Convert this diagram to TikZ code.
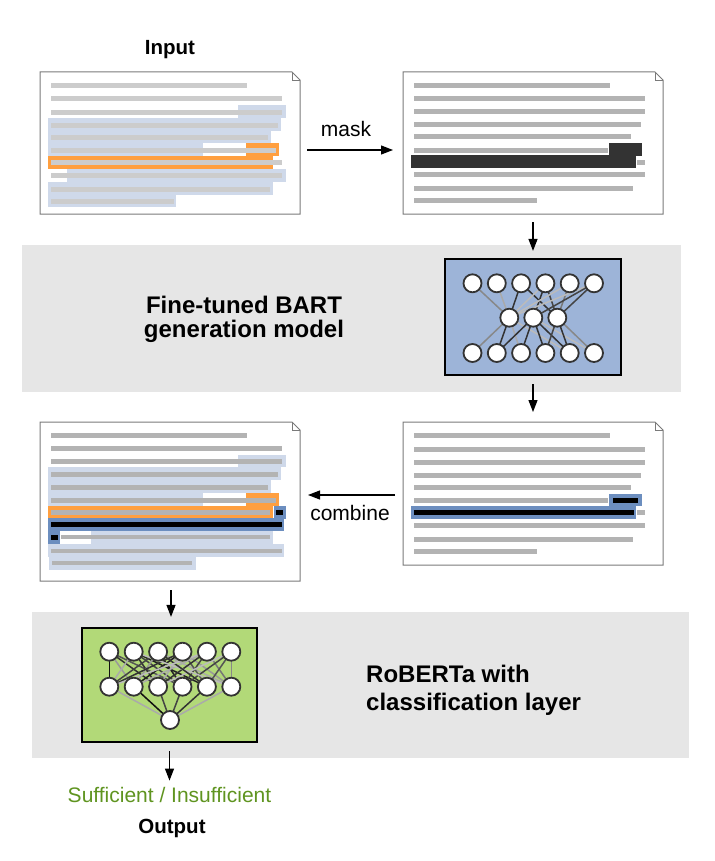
\documentclass[tikz,border=0pt]{standalone}
\usepackage{fontspec}
\setmainfont{Liberation Sans}
\usetikzlibrary{arrows.meta}
\definecolor{bandgray}{HTML}{E6E6E6}
\definecolor{lgray}{HTML}{CCCCCC}
\definecolor{mgray}{HTML}{B3B3B3}
\definecolor{hlblue}{HTML}{CFD9EA}
\definecolor{dkblue}{HTML}{6C8EBF}
\definecolor{hlorange}{HTML}{FF9F3F}
\definecolor{maskdark}{HTML}{333333}
\definecolor{bartfill}{HTML}{9DB4D8}
\definecolor{robfill}{HTML}{B2D978}
\definecolor{outgreen}{HTML}{5F9420}
\definecolor{docedge}{HTML}{7A7A7A}
\tikzset{
  docnode/.style={inner sep=0pt, outer sep=0pt, minimum width=260pt},
  docborder/.style={draw=docedge, line width=1pt, fill=white},
  foldline/.style={draw=docedge, line width=0.8pt},
  band/.style={fill=bandgray, draw=none},
  netbox/.style={draw=black, line width=2.2pt, inner sep=0pt},
  neuron/.style={circle, draw=maskdark, line width=1.8pt, fill=white, minimum size=18pt, inner sep=0pt},
  arr/.style={draw=black, line width=1.2pt, -{Triangle[length=12pt,width=9pt]}},
  ed/.style={line width=1.5pt},
  title/.style={font=\bfseries\fontsize{24}{24}\selectfont, inner sep=0pt},
  small/.style={font=\fontsize{21}{21}\selectfont, inner sep=0pt},
  io/.style={font=\bfseries\fontsize{20.5}{20.5}\selectfont, inner sep=0pt},
}
\newcommand\docoutline[1]{%
  \path[docborder] (#1.north west) -- ([xshift=-8pt]#1.north east) -- ([yshift=-8pt]#1.north east) -- (#1.south east) -- (#1.south west) -- cycle;
  \draw[foldline] ([xshift=-8pt]#1.north east) -- ([xshift=-8pt,yshift=-8pt]#1.north east) -- ([yshift=-8pt]#1.north east);}
\newcommand\tline[4]{\draw[line width=4.7pt,#1] (#3,#2) -- (#4,#2);}
\newcommand\hrect[5]{\fill[#1] (#2,#3) rectangle (#4,#5);}
\begin{document}
\begin{tikzpicture}[x=1pt,y=-1pt]
\useasboundingbox (0,0) rectangle (714,861);
% gray bands
\fill[band] (22,245) rectangle (681,392);
\fill[band] (32,612) rectangle (689,758);

% ---------- document nodes ----------
\node[docnode, minimum height=142pt] (d1) at (170,143) {};
\node[docnode, minimum height=142pt] (d2) at (533,143) {};
\node[docnode, minimum height=159pt] (d3) at (170,501.5) {};
\node[docnode, minimum height=143pt] (d4) at (533,493.5) {};
\docoutline{d1}\docoutline{d2}\docoutline{d3}\docoutline{d4}

% ---------- doc 1 ----------
\hrect{hlblue}{238}{105}{286}{117.7}
\hrect{hlblue}{48}{117.7}{281}{131}
\hrect{hlblue}{48}{131}{271}{143.3}
\hrect{hlblue}{48}{143.3}{203}{156}
\hrect{hlblue}{67}{169}{286}{182}
\hrect{hlblue}{48}{182}{273}{195}
\hrect{hlblue}{48}{195}{176}{207}
\hrect{hlorange}{246}{143}{279}{156}
\hrect{hlorange}{48}{156}{273}{169}
\tline{lgray}{85.3}{51}{247}
\tline{lgray}{98.3}{51}{282}
\tline{lgray}{112.3}{51}{282}
\tline{lgray}{125.3}{51}{278}
\tline{lgray}{137.3}{51}{268}
\tline{lgray}{150.3}{51}{276}
\tline{lgray}{162.3}{51}{282}
\tline{lgray}{175.3}{51}{282}
\tline{lgray}{189.3}{51}{270}
\tline{lgray}{201.3}{51}{174}

% ---------- doc 2 ----------
\tline{mgray}{85.3}{414}{610}
\tline{mgray}{98.3}{414}{645}
\tline{mgray}{111.3}{414}{645}
\tline{mgray}{124.3}{414}{641}
\tline{mgray}{136.3}{414}{631}
\tline{mgray}{150.3}{414}{608}
\tline{mgray}{162.3}{637}{645}
\tline{mgray}{174.3}{414}{645}
\tline{mgray}{188.3}{414}{633}
\tline{mgray}{200.3}{414}{537}
\hrect{maskdark}{609}{143}{642}{156}
\hrect{maskdark}{411}{155}{636}{168}

% ---------- doc 3 ----------
\hrect{hlblue}{238}{455}{286}{467.3}
\hrect{hlblue}{48}{467.3}{281}{480.3}
\hrect{hlblue}{48}{480.3}{271}{493}
\hrect{hlblue}{48}{493}{203}{506}
\hrect{hlblue}{91}{531}{273}{544}
\hrect{hlblue}{48}{544}{284}{557}
\hrect{hlblue}{49}{557}{196}{570}
\hrect{hlorange}{246}{493}{279}{506}
\hrect{hlorange}{48}{506}{273}{518}
\hrect{dkblue}{274}{506}{286}{519}
\hrect{dkblue}{48}{518}{284}{531}
\hrect{dkblue}{48}{531}{60}{544}
\tline{mgray}{435.3}{51}{247}
\tline{mgray}{448.3}{51}{282}
\tline{mgray}{461.3}{51}{282}
\tline{mgray}{474.3}{51}{278}
\tline{mgray}{487.3}{51}{268}
\tline{mgray}{500.3}{51}{276}
\tline{mgray}{512.3}{51}{270}
\tline{mgray}{537}{61}{270}
\tline{mgray}{551}{51}{282}
\tline{mgray}{563}{52}{192}
\hrect{black}{276}{510.3}{283}{515}
\hrect{black}{51}{522}{282}{527}
\hrect{black}{51}{535}{58}{540}

% ---------- doc 4 ----------
\tline{mgray}{435.3}{414}{610}
\tline{mgray}{449.3}{414}{645}
\tline{mgray}{462.3}{414}{645}
\tline{mgray}{475.3}{414}{641}
\tline{mgray}{487.3}{414}{631}
\tline{mgray}{500.3}{414}{608}
\tline{mgray}{512.3}{637}{645}
\tline{mgray}{525.3}{414}{645}
\tline{mgray}{539.3}{414}{633}
\tline{mgray}{551.3}{414}{537}
\hrect{dkblue}{609}{494}{642}{506.3}
\hrect{dkblue}{411}{506}{636}{519}
\hrect{black}{613}{498.3}{638}{502.7}
\hrect{black}{414}{510.3}{634}{515}

% ---------- BART network ----------
\node[netbox, fill=bartfill, minimum width=176pt, minimum height=116pt] (bart) at (533,317) {};
\foreach \i/\x in {1/472.5,2/496.8,3/521.1,4/545.4,5/569.7,6/594.0}{
  \coordinate (bt\i) at (\x,283.3);
  \coordinate (bb\i) at (\x,353);}
\foreach \i/\x in {1/509.3,2/533.3,3/557.3}{\coordinate (bm\i) at (\x,317.7);}
\foreach \a/\b/\c in {1/1/888888,2/1/AAAAAA,3/1/333333,3/3/333333,4/1/BBBBBB,4/2/333333,4/3/444444,5/1/BBBBBB,5/3/777777,6/1/BBBBBB,6/2/444444,6/3/444444}{
  \definecolor{ec}{HTML}{\c}\draw[ed, ec] (bt\a) -- (bm\b);}
\foreach \a/\b/\c in {1/1/888888,1/2/333333,1/3/AAAAAA,1/5/BBBBBB,2/2/333333,2/3/333333,2/4/333333,2/5/333333,2/6/BBBBBB,3/4/444444,3/5/333333,3/6/888888}{
  \definecolor{ec}{HTML}{\c}\draw[ed, ec] (bm\a) -- (bb\b);}
\foreach \i in {1,...,6}{\node[neuron] (nbt\i) at (bt\i) {}; \node[neuron] (nbb\i) at (bb\i) {};}
\foreach \i in {1,2,3}{\node[neuron] (nbm\i) at (bm\i) {};}

% ---------- RoBERTa network ----------
\node[netbox, fill=robfill, minimum width=175pt, minimum height=114pt] (rob) at (169.5,685) {};
\foreach \i/\x in {1/109.3,2/133.7,3/158.1,4/182.5,5/206.9,6/231.3}{
  \coordinate (rt\i) at (\x,651.7);
  \coordinate (rm\i) at (\x,686.7);}
\coordinate (rb) at (170,720);
\foreach \a/\b/\c in {1/1/111111,6/6/888888,1/2/999999,1/3/333333,1/4/555555,2/1/AAAAAA,2/3/333333,2/4/444444,2/5/222222,3/1/444444,3/2/999999,3/4/222222,3/6/AAAAAA,4/1/333333,4/2/222222,4/3/AAAAAA,4/5/555555,4/6/999999,5/2/AAAAAA,5/3/333333,5/4/444444,5/6/777777,6/3/BBBBBB,6/4/444444,6/5/555555,2/6/BBBBBB,3/5/333333,5/1/BBBBBB}{
  \definecolor{ec}{HTML}{\c}\draw[ed, ec] (rt\a) -- (rm\b);}
\foreach \a/\c in {1/AAAAAA,2/111111,3/444444,4/444444,5/333333,6/AAAAAA}{
  \definecolor{ec}{HTML}{\c}\draw[ed, ec] (rm\a) -- (rb);}
\foreach \i in {1,...,6}{\node[neuron] (nrt\i) at (rt\i) {}; \node[neuron] (nrm\i) at (rm\i) {};}
\node[neuron] (nrb) at (rb) {};

% ---------- texts ----------
\node[io, anchor=base] (input) at (170,55) {Input};
\node[small, anchor=base] (masklbl) at (346,137) {mask};
\node[small, anchor=base] (comblbl) at (350,520) {combine};
\node[title, anchor=base] (bart1) at (244,313) {Fine-tuned BART};
\node[title, anchor=base] (bart2) at (244,337) {generation model};
\node[title, anchor=base west] (rob1) at (366,682) {RoBERTa with};
\node[title, anchor=base west] (rob2) at (366,710) {classification layer};
\node[small, anchor=base, text=outgreen] (suf) at (169.5,802) {Sufficient / Insufficient};
\node[io, anchor=base] (output) at (172,833) {Output};

% ---------- arrows ----------
\draw[arr, shorten <=7pt, shorten >=10pt] ([yshift=-7pt]d1.east) -- ([yshift=-7pt]d2.west);
\draw[arr, shorten <=8pt, shorten >=7pt] (d2.south) -- (bart.north);
\draw[arr, shorten <=8pt, shorten >=10pt] (bart.south) -- (d4.north);
\draw[arr, shorten <=8pt, shorten >=8pt] ([yshift=-1.5pt]d4.west) -- ([yshift=-1.5pt]d4.west -| d3.east);
\draw[arr, shorten <=9pt, shorten >=10pt] ([xshift=1pt]d3.south) -- ([xshift=1.5pt]rob.north);
\draw[arr, shorten <=8pt, shorten >=6pt] (rob.south) -- (rob.south |- suf.north);
\end{tikzpicture}
\end{document}
